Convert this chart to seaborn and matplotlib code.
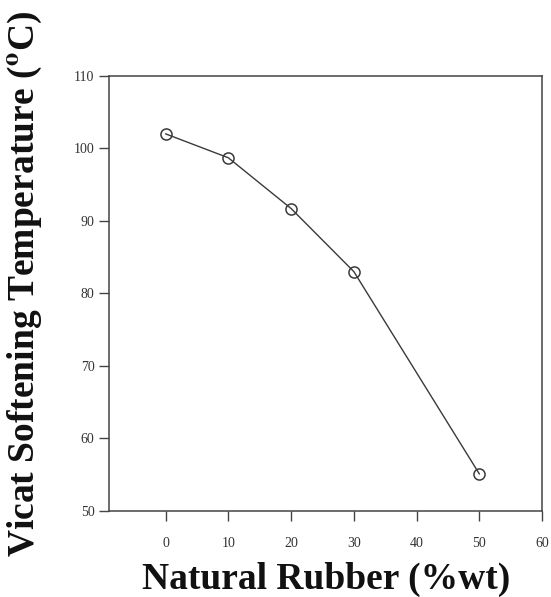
import matplotlib
matplotlib.use("Agg")
import matplotlib.pyplot as plt
import seaborn as sns
import pandas as pd

# Natural rubber content vs Vicat softening temperature
rubber = [0, 10, 20, 30, 50]
vicat = [102.0, 98.7, 91.7, 83.0, 55.1]
xticks = [0, 10, 20, 30, 40, 50, 60]
yticks = [50, 60, 70, 80, 90, 100, 110]

df = pd.DataFrame({"rubber": rubber, "vicat": vicat})

sns.set_style("white")
plt.rcParams["mathtext.fontset"] = "stix"

fig = plt.figure(figsize=(5.51, 5.97), dpi=100)
ax = fig.add_axes([0.198, 0.144, 0.786, 0.729])

sns.lineplot(data=df, x="rubber", y="vicat", ax=ax, color="#3a3a3a", linewidth=1.0,
             marker="o", markersize=8, markerfacecolor="none",
             markeredgecolor="#3a3a3a", markeredgewidth=1.1)

ax.set_xlim(-9, 60)
ax.set_ylim(50, 110)
ax.set_xticks(xticks)
ax.set_yticks(yticks)
ax.tick_params(axis="both", direction="out", length=7, width=1, color="#444444",
               labelsize=10, labelcolor="#333333", top=False, right=False,
               bottom=True, left=True)
for lab in ax.get_xticklabels() + ax.get_yticklabels():
    lab.set_family("Liberation Serif")
ax.tick_params(axis="x", pad=12)

for sp in ax.spines.values():
    sp.set_color("#444444")
    sp.set_linewidth(1.1)

ax.set_xlabel("")
ax.set_ylabel("")
fig.text(0.592, 0.029, "Natural Rubber (%wt)", ha="center", va="center",
         family="Liberation Serif", weight="bold", fontsize=27, color="#111111")
fig.text(0.045, 0.525, r"Vicat Softening Temperature ($\mathbf{^{o}}$C)", ha="center", va="center",
         rotation=90, family="Liberation Serif", weight="bold", fontsize=27, color="#111111")

fig.savefig("out.png", dpi=100)
